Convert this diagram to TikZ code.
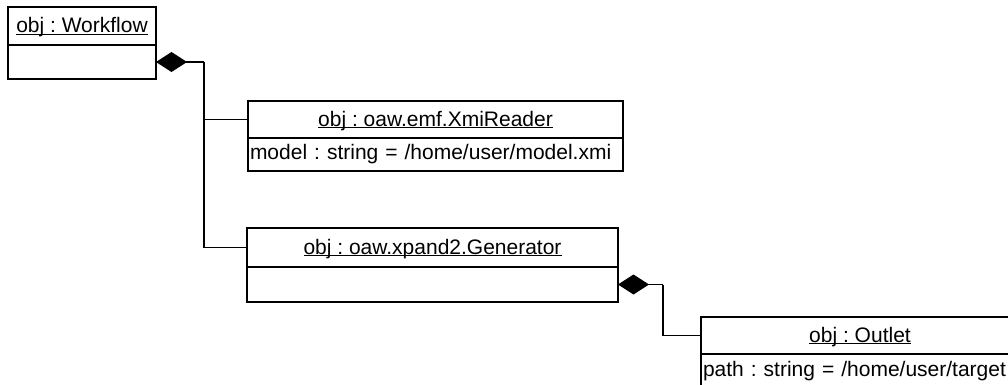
\documentclass[tikz,border=0pt]{standalone}
\usepackage{fontspec}
\setmainfont{Liberation Sans}
\usetikzlibrary{arrows.meta}
\usetikzlibrary{positioning}
\frenchspacing

\newcommand{\objname}[1]{\underline{\raisebox{0pt}[\height][0pt]{#1}}}

\tikzset{
  objhead/.style={draw, line width=1.5pt, anchor=north west, inner sep=0pt, outer sep=0pt,
    font=\fontsize{21}{24}\selectfont},
  objbody/.style={draw, line width=1.5pt, inner xsep=2pt, inner ysep=0pt, outer sep=0pt,
    align=left, font=\fontsize{21}{24}\selectfont},
  link/.style={line width=1.2pt},
  comp/.style={link, {Diamond[length=31pt,width=20pt]}-}
}

\begin{document}
\begin{tikzpicture}[x=1pt,y=-1pt]
  \useasboundingbox (0,0) rectangle (1008,385);
  \clip (0,0) rectangle (1008,385);

  % workflow object
  \node[objhead, minimum width=148pt, minimum height=38pt] (wf) at (8,7) {\objname{obj : Workflow}};
  \node[objbody, minimum width=148pt, minimum height=34pt, below=0pt of wf] (wfbody) {};

  % reader
  \node[objhead, minimum width=375pt, minimum height=37pt] (xmi) at (248,101) {\objname{obj : oaw.emf.XmiReader}};
  \node[objbody, text width=371pt, minimum height=33pt, below=0pt of xmi] (xmibody) {model : string = /home/user/model.xmi};

  % generator
  \node[objhead, minimum width=371pt, minimum height=39pt] (gen) at (247,228) {\objname{obj : oaw.xpand2.Generator}};
  \node[objbody, minimum width=371pt, minimum height=35pt, below=0pt of gen] (genbody) {};

  % outlet
  \node[objhead, minimum width=318pt, minimum height=37pt] (outlet) at (701,317) {\objname{obj : Outlet}};
  \node[objbody, text width=314pt, minimum height=35pt, below=0pt of outlet] (outletbody) {path : string = /home/user/target};

  % compositions
  \coordinate[right=48pt of wfbody] (wfjoin);
  \draw[comp] (wfbody.east) -- (wfjoin);
  \draw[link] (wfjoin) |- (xmi.west);
  \draw[link] (wfjoin) |- (gen.west);

  \coordinate[right=45pt of genbody] (genjoin);
  \draw[comp] (genbody.east) -- (genjoin);
  \draw[link] (genjoin) |- (outlet.west);

\end{tikzpicture}
\end{document}
